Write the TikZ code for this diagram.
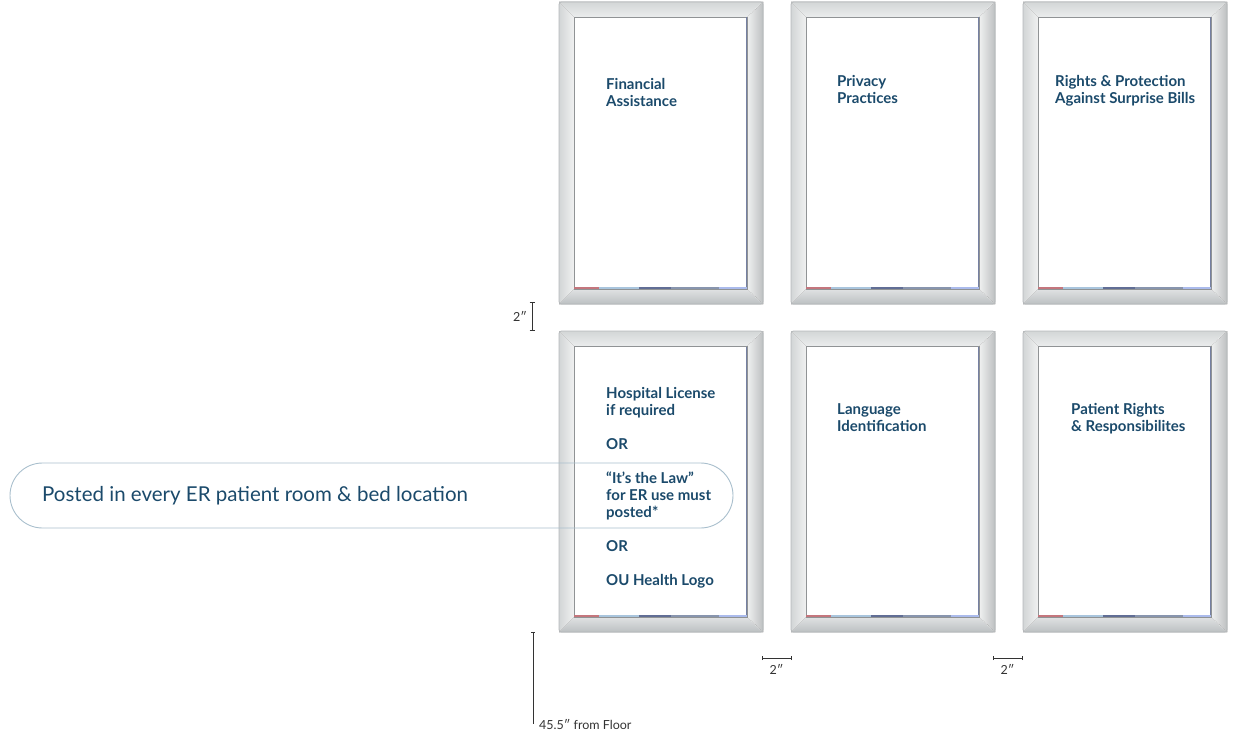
\documentclass[tikz,border=0pt]{standalone}
\usepackage{fontspec}
\setmainfont{Lato}
\definecolor{ink}{HTML}{1B4A6B}
\definecolor{pillc}{HTML}{A9BFCD}
\definecolor{dimc}{HTML}{333333}
\definecolor{fedge}{HTML}{B4B8BA}
\definecolor{ftopA}{HTML}{D3D6D7}
\definecolor{ftopB}{HTML}{EBEDED}
\definecolor{fsideA}{HTML}{D2D5D6}
\definecolor{fsideB}{HTML}{F0F1F1}
\definecolor{fbotA}{HTML}{E0E2E3}
\definecolor{fbotB}{HTML}{BCC0C2}
\definecolor{stripR}{HTML}{B5545C}
\definecolor{stripL}{HTML}{A9C5DD}
\definecolor{stripN}{HTML}{3A4A7A}
\definecolor{stripS}{HTML}{6A7A9A}
\usetikzlibrary{positioning}
\tikzset{
  signframe/.pic={
    \fill[left color=fsideA,right color=fsideB] (0,0)--(15,15)--(15,\fh-15)--(0,\fh)--cycle;
    \fill[left color=fsideB,right color=fsideA!90!black] (204,0)--(204,\fh)--(188,\fh-15)--(188,15)--cycle;
    \fill[top color=ftopA,bottom color=ftopB] (0,0)--(204,0)--(188,15)--(15,15)--cycle;
    \fill[top color=fbotA,bottom color=fbotB] (0,\fh)--(204,\fh)--(188,\fh-15)--(15,\fh-15)--cycle;
    \draw[fedge,line width=0.8pt,rounded corners=2.5pt] (0,0) rectangle (204,\fh);
    \draw[white,line width=0.5pt,opacity=0.6] (0.5,0.5)--(15,15) (203.5,0.5)--(188,15) (0.5,\fh-0.5)--(15,\fh-15) (203.5,\fh-0.5)--(188,\fh-15);
    \node[fill=white,draw=fedge!80!black,line width=0.4pt,inner sep=0pt,minimum width=173pt,minimum height={\fh-30},anchor=north west] (-inner) at (15,15) {};
    \draw[stripN!70,line width=0.7pt] (187.6,15.5)--(187.6,\fh-15.5);
    \fill[stripR!80] (15.3,\fh-16.8) rectangle (40,\fh-15.3);
    \fill[stripL] (40,\fh-16.8) rectangle (80,\fh-15.3);
    \fill[stripN!80] (80,\fh-16.8) rectangle (112,\fh-15.3);
    \fill[stripS!80] (112,\fh-16.8) rectangle (160,\fh-15.3);
    \fill[stripL!80!blue!70] (160,\fh-16.8) rectangle (187.6,\fh-15.3);
  },
  signtext/.style={anchor=base west,inner sep=0pt,align=left,text=ink,
    font=\fontsize{15}{17}\selectfont\bfseries},
  dimline/.style={draw=dimc,line width=0.8pt},
  dimlabel/.style={inner sep=0pt,text=dimc,font=\fontsize{12.5}{14}\selectfont},
  pillline/.style={draw=pillc,line width=0.9pt},
}
\begin{document}
\begin{tikzpicture}[x=1pt,y=-1pt]
\useasboundingbox (0,0) rectangle (1242,741);
% frames
\def\fh{302}
\pic (f1) at (559,2) {signframe};
\pic (f2) at (791,2) {signframe};
\pic (f3) at (1023,2) {signframe};
\def\fh{301}
\pic (f4) at (559,331) {signframe};
\pic (f5) at (791,331) {signframe};
\pic (f6) at (1023,331) {signframe};
% texts (base = baseline of the last line)
\node[signtext] (t1) at (606,106.5) {Financial\\Assistance};
\node[signtext] (t2) at (837,103.5) {Privacy\\Practices};
\node[signtext] (t3) at (1055,103.5) {Rights \& Protection\\Against Surprise Bills};
\node[signtext] (t4) at (606,585.5) {Hospital License\\if required\\[17pt]OR\\[17pt]“It’s the Law”\\for ER use must\\posted*\\[17pt]OR\\[17pt]OU Health Logo};
\node[signtext] (t5) at (837,431.5) {Language\\Identification};
\node[signtext] (t6) at (1071,431.5) {Patient Rights\\\& Responsibilites};
% pill
\draw[pillline,rounded corners=32.5pt] (10,463) rectangle (733,528);
\node[anchor=west,inner sep=0pt,text=ink,font=\fontsize{20.5}{24}\selectfont] (posted) at (42,495.5) {Posted in every ER patient room \& bed location};
% dimensions
\coordinate (v1a) at (532,302);
\coordinate (v1b) at (532,330);
\draw[dimline] (v1a)--(v1b) ([xshift=-2.5]v1a)--([xshift=2.5]v1a) ([xshift=-2.5]v1b)--([xshift=2.5]v1b);
\node[dimlabel,anchor=east] (d1) at (527,316.5) {2″};
\coordinate (h1a) at (762,658);
\coordinate (h1b) at (791,658);
\draw[dimline] (h1a)--(h1b) ([yshift=-2]h1a)--([yshift=2]h1a) ([yshift=-2]h1b)--([yshift=2]h1b);
\node[dimlabel,anchor=center] (d2) at (776.5,669) {2″};
\coordinate (h2a) at (993,658);
\coordinate (h2b) at (1022,658);
\draw[dimline] (h2a)--(h2b) ([yshift=-2]h2a)--([yshift=2]h2a) ([yshift=-2]h2b)--([yshift=2]h2b);
\node[dimlabel,anchor=center] (d3) at (1007.5,669) {2″};
\coordinate (fl1) at (533,632);
\coordinate (fl2) at (533,724);
\draw[dimline] (fl1)--(fl2) ([xshift=-2]fl1)--([xshift=2]fl1);
\node[dimlabel,anchor=west] (d4) at (539,725) {45.5″ from Floor};
\end{tikzpicture}
\end{document}
